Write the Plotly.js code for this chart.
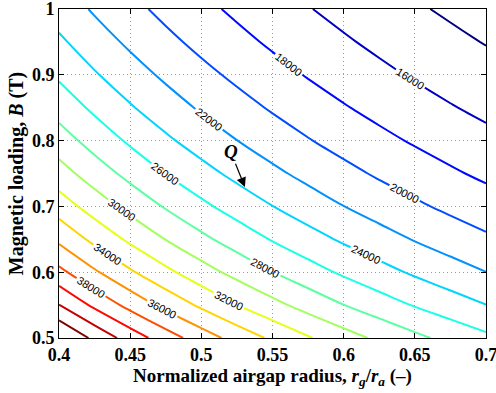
<!DOCTYPE html>
<html>
<head>
<meta charset="utf-8">
<script src="https://cdn.plot.ly/plotly-3.0.1.min.js"></script>
<style>html,body{margin:0;padding:0;background:#fff;}#chart{width:496px;height:393px;}</style>
</head>
<body>
<div id="chart"></div>
<script>
// Normalized airgap radius r_g/r_a (x grid)
const radius = [0.400, 0.425, 0.450, 0.475, 0.500, 0.525, 0.550, 0.575, 0.600, 0.625, 0.650, 0.675, 0.700];
// Magnetic loading B in T (y grid)
const loading = [0.50, 0.55, 0.60, 0.65, 0.70, 0.75, 0.80, 0.85, 0.90, 0.95, 1.00];
// Field values (rows follow loading, columns follow radius)
const fieldB050 = [46250, 43530, 41110, 38950, 37000, 35240, 33640, 32170, 30830, 29600, 28460, 27410, 26430];
const fieldB055 = [42050, 39570, 37370, 35410, 33640, 32030, 30580, 29250, 28030, 26910, 25870, 24920, 24030];
const fieldB060 = [38540, 36270, 34260, 32460, 30830, 29370, 28030, 26810, 25690, 24670, 23720, 22840, 22020];
const fieldB065 = [35580, 33480, 31620, 29960, 28460, 27110, 25870, 24750, 23720, 22770, 21890, 21080, 20330];
const fieldB070 = [33040, 31090, 29370, 27820, 26430, 25170, 24030, 22980, 22020, 21140, 20330, 19580, 18880];
const fieldB075 = [30830, 29020, 27410, 25960, 24670, 23490, 22420, 21450, 20560, 19730, 18970, 18270, 17620];
const fieldB080 = [28910, 27210, 25690, 24340, 23125, 22020, 21020, 20110, 19270, 18500, 17790, 17130, 16520];
const fieldB085 = [27210, 25610, 24180, 22910, 21760, 20730, 19790, 18930, 18140, 17410, 16740, 16120, 15550];
const fieldB090 = [25690, 24180, 22840, 21640, 20560, 19580, 18690, 17870, 17130, 16440, 15810, 15230, 14680];
const fieldB095 = [24340, 22910, 21640, 20500, 19470, 18550, 17700, 16930, 16230, 15580, 14980, 14430, 13910];
const fieldB100 = [23130, 21760, 20560, 19470, 18500, 17620, 16820, 16090, 15420, 14800, 14230, 13700, 13210];
// Contour levels
const levelStart = 14000, levelEnd = 44000, levelStep = 2000;
// Tick labels
const xTicks = [0.4, 0.45, 0.5, 0.55, 0.6, 0.65, 0.7];
const xTickText = ['0.4', '0.45', '0.5', '0.55', '0.6', '0.65', '0.7'];
const yTicks = [0.5, 0.6, 0.7, 0.8, 0.9, 1];
const yTickText = ['0.5', '0.6', '0.7', '0.8', '0.9', '1'];
// Annotated point Q (arrow head) and arrow tail / label position
const qHead = [0.5306, 0.7293];
const qTail = [0.5236, 0.767];
const qLabel = [0.5205, 0.784];

const z = [fieldB050, fieldB055, fieldB060, fieldB065, fieldB070, fieldB075,
           fieldB080, fieldB085, fieldB090, fieldB095, fieldB100];
const allZ = z.flat();

const jet = [
  [0, 'rgb(0,0,128)'], [0.125, 'rgb(0,0,255)'], [0.375, 'rgb(0,255,255)'],
  [0.625, 'rgb(255,255,0)'], [0.875, 'rgb(255,0,0)'], [1, 'rgb(128,0,0)']
];

const serif = 'Liberation Serif, Times New Roman, serif';
const eps = 1e-6;

const trace = {
  type: 'contour',
  x: radius, y: loading, z: z,
  zmin: Math.min(...allZ), zmax: Math.max(...allZ),
  colorscale: jet, showscale: false,
  autocontour: false,
  contours: {start: levelStart, end: levelEnd, size: levelStep, coloring: 'lines',
             showlabels: true, labelformat: 'd',
             labelfont: {family: 'Liberation Sans, Arial, sans-serif', size: 11, color: '#000'}},
  line: {width: 2, smoothing: 1},
  hoverinfo: 'skip'
};

const axisCommon = {
  ticks: 'inside', ticklen: 5, tickcolor: '#000',
  showline: true, linecolor: '#000', linewidth: 1, mirror: 'ticks',
  showgrid: true, gridcolor: '#9a9a9a', griddash: '1px,3px', gridwidth: 1,
  zeroline: false, ticklabeloverflow: 'allow',
  tickfont: {family: serif, size: 18, weight: 'bold', color: '#000'}
};

const layout = {
  width: 496, height: 393,
  margin: {l: 59, r: 10, t: 9, b: 55},
  paper_bgcolor: '#fff', plot_bgcolor: '#fff',
  showlegend: false,
  xaxis: Object.assign({}, axisCommon, {
    range: [0.4 - eps, 0.7 + eps], tickvals: xTicks, ticktext: xTickText,
    title: {text: 'Normalized airgap radius, <i>r</i><sub><i>g</i></sub>/<i>r</i><sub><i>a</i></sub> (–)',
            font: {family: serif, size: 19, weight: 'bold', color: '#000'}, standoff: 0}
  }),
  yaxis: Object.assign({}, axisCommon, {
    range: [0.5 - eps, 1 + eps], tickvals: yTicks, ticktext: yTickText,
    title: {text: 'Magnetic loading, <i>B</i> (T)',
            font: {family: serif, size: 20, weight: 'bold', color: '#000'}, standoff: 2}
  }),
  annotations: [
    {x: qHead[0], y: qHead[1], xref: 'x', yref: 'y', ax: qTail[0], ay: qTail[1], axref: 'x', ayref: 'y',
     text: '', showarrow: true, arrowhead: 2, arrowsize: 1.6, arrowwidth: 1.2, arrowcolor: '#000'},
    {x: qLabel[0], y: qLabel[1], xref: 'x', yref: 'y', text: '<i>Q</i>', showarrow: false,
     font: {family: serif, size: 19, weight: 'bold', color: '#000'}}
  ]
};

Plotly.newPlot('chart', [trace], layout, {displayModeBar: false, staticPlot: true});
</script>
</body>
</html>
